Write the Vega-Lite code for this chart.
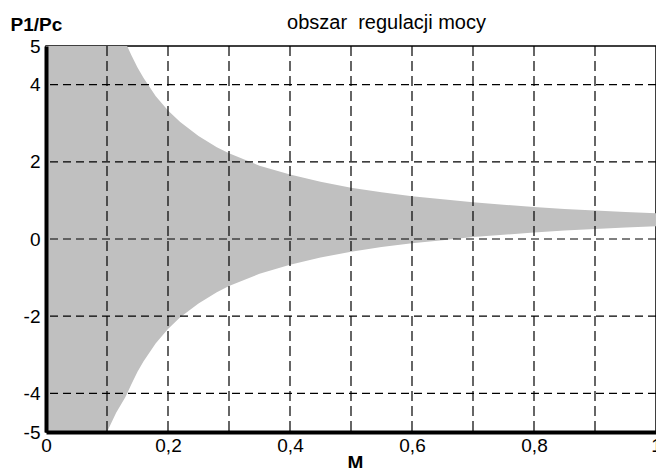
{
  "$schema": "https://vega.github.io/schema/vega-lite/v6.json",
  "width": 610,
  "height": 386,
  "autosize": "none",
  "padding": {"left": 46, "top": 46, "right": 0, "bottom": 36},
  "background": "white",
  "config": {"font": "Liberation Sans", "view": {"stroke": "black", "strokeWidth": 1.5}},
  "datasets": {
    "curve": [
      {"M": 0, "hi": 5, "lo": -5},
      {"M": 0.05, "hi": 5, "lo": -5},
      {"M": 0.1, "hi": 5, "lo": -5},
      {"M": 0.115, "hi": 5, "lo": -4.5},
      {"M": 0.13, "hi": 5, "lo": -4.1},
      {"M": 0.133, "hi": 5, "lo": -4.0},
      {"M": 0.14, "hi": 4.76, "lo": -3.76},
      {"M": 0.15, "hi": 4.44, "lo": -3.44},
      {"M": 0.16, "hi": 4.17, "lo": -3.17},
      {"M": 0.18, "hi": 3.7, "lo": -2.7},
      {"M": 0.2, "hi": 3.33, "lo": -2.33},
      {"M": 0.22, "hi": 3.03, "lo": -2.03},
      {"M": 0.25, "hi": 2.67, "lo": -1.67},
      {"M": 0.28, "hi": 2.38, "lo": -1.38},
      {"M": 0.3, "hi": 2.22, "lo": -1.22},
      {"M": 0.35, "hi": 1.9, "lo": -0.9},
      {"M": 0.4, "hi": 1.67, "lo": -0.67},
      {"M": 0.45, "hi": 1.48, "lo": -0.48},
      {"M": 0.5, "hi": 1.33, "lo": -0.33},
      {"M": 0.55, "hi": 1.21, "lo": -0.21},
      {"M": 0.6, "hi": 1.11, "lo": -0.11},
      {"M": 0.65, "hi": 1.03, "lo": -0.03},
      {"M": 0.7, "hi": 0.95, "lo": 0.05},
      {"M": 0.75, "hi": 0.89, "lo": 0.11},
      {"M": 0.8, "hi": 0.83, "lo": 0.17},
      {"M": 0.85, "hi": 0.78, "lo": 0.22},
      {"M": 0.9, "hi": 0.74, "lo": 0.26},
      {"M": 0.95, "hi": 0.7, "lo": 0.3},
      {"M": 1.0, "hi": 0.67, "lo": 0.33}
    ],
    "vx": [
      {"v": 0.1}, {"v": 0.2}, {"v": 0.3}, {"v": 0.4}, {"v": 0.5},
      {"v": 0.6}, {"v": 0.7}, {"v": 0.8}, {"v": 0.9}
    ],
    "hy": [
      {"h": -4}, {"h": -2}, {"h": 0}, {"h": 2}, {"h": 4}
    ]
  },
  "layer": [
    {
      "data": {"name": "curve"},
      "mark": {"type": "area", "color": "#c0c0c0", "clip": true},
      "encoding": {
        "x": {
          "field": "M", "type": "quantitative",
          "scale": {"domain": [0, 1], "nice": false, "zero": false},
          "axis": {
            "orient": "bottom",
            "values": [0, 0.2, 0.4, 0.6, 0.8, 1],
            "labelExpr": "datum.value == 0 ? '0' : datum.value == 1 ? '1' : replace(format(datum.value, '.1f'), '.', ',')",
            "ticks": false, "grid": false,
            "domainColor": "black", "domainWidth": 4,
            "labelFontSize": 19, "labelColor": "black", "labelPadding": 4,
            "labelFlush": false, "labelBound": false, "labelOverlap": false,
            "title": "M", "titleFontSize": 19, "titleFontWeight": "bold",
            "titleX": 309, "titleY": 21, "titleBaseline": "top", "titleAlign": "center",
            "titleColor": "black", "zindex": 2
          }
        },
        "y": {
          "field": "hi", "type": "quantitative",
          "scale": {"domain": [-5, 5], "nice": false, "zero": false},
          "axis": {
            "values": [-5, -4, -2, 0, 2, 4, 5],
            "labelExpr": "datum.value < 0 ? '-' + abs(datum.value) : '' + datum.value",
            "ticks": false, "grid": false,
            "domainColor": "black", "domainWidth": 4,
            "labelFontSize": 19, "labelColor": "black", "labelPadding": 6,
            "labelFlush": false, "labelBound": false, "labelOverlap": false,
            "title": "P1/Pc", "titleAngle": 0, "titleX": -36, "titleY": -16,
            "titleAlign": "left", "titleBaseline": "alphabetic",
            "titleFontSize": 19, "titleFontWeight": "bold", "titleColor": "black",
            "zindex": 2
          }
        },
        "y2": {"field": "lo"}
      }
    },
    {
      "data": {"name": "vx"},
      "mark": {"type": "rule", "color": "black", "strokeWidth": 1.2, "strokeDash": [10, 5]},
      "encoding": {
        "x": {
          "field": "v", "type": "quantitative",
          "axis": {
            "orient": "top", "labels": false, "ticks": false, "domain": false, "grid": false,
            "title": "obszar\u00a0 regulacji mocy", "titleX": 340, "titleY": -18,
            "titleBaseline": "alphabetic", "titleAlign": "center",
            "titleFontSize": 20, "titleFontWeight": "normal", "titleColor": "black"
          }
        }
      }
    },
    {
      "data": {"name": "hy"},
      "mark": {"type": "rule", "color": "black", "strokeWidth": 1.2, "strokeDash": [8, 5]},
      "encoding": {
        "y": {
          "field": "h", "type": "quantitative",
          "axis": {
            "values": [-5, -4, -2, 0, 2, 4, 5],
            "labelExpr": "datum.value < 0 ? '-' + abs(datum.value) : '' + datum.value",
            "ticks": false, "grid": false,
            "domainColor": "black", "domainWidth": 4,
            "labelFontSize": 19, "labelColor": "black", "labelPadding": 6,
            "labelFlush": false, "labelBound": false, "labelOverlap": false,
            "title": "P1/Pc", "titleAngle": 0, "titleX": -36, "titleY": -16,
            "titleAlign": "left", "titleBaseline": "alphabetic",
            "titleFontSize": 19, "titleFontWeight": "bold", "titleColor": "black",
            "zindex": 2
          }
        }
      }
    }
  ],
  "resolve": {"axis": {"x": "independent"}}
}
